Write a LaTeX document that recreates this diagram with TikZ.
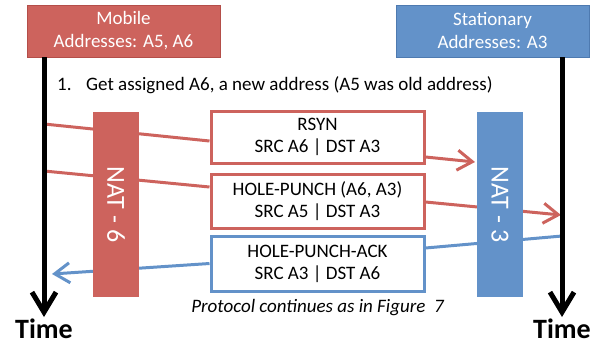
\documentclass[tikz,border=0pt]{standalone}
\usepackage{fontspec}
\setmainfont{Carlito}
\usetikzlibrary{arrows.meta,backgrounds}
\definecolor{natred}{RGB}{205,99,93}
\definecolor{natredd}{RGB}{180,78,73}
\definecolor{natblue}{RGB}{99,146,201}
\definecolor{natblued}{RGB}{78,122,176}
\tikzset{
  hdr/.style={rectangle,draw=#1,line width=1pt,minimum width=193pt,minimum height=52pt,inner sep=0pt,align=center,text=white,font=\fontsize{19}{23}\selectfont},
  natbox/.style={rectangle,fill=#1,minimum width=185pt,minimum height=46pt,inner sep=0pt,text=white,font=\fontsize{26}{30}\selectfont},
  msgbox/.style={rectangle,draw=#1,line width=3pt,fill=white,minimum width=213pt,minimum height=52pt,inner sep=0pt,align=center,font=\fontsize{19}{22}\selectfont},
  msg/.style={line width=3pt,draw=#1},
  msgarrow/.style={line width=3pt,draw=#1,-{Straight Barb[length=15pt,width=20pt]}},
  timeline/.style={line width=5pt,-{Straight Barb[length=20pt,width=24pt]}},
  timelbl/.style={font=\fontsize{28}{30}\selectfont\bfseries,inner sep=0pt,anchor=base},
}
\begin{document}
\begin{tikzpicture}[x=1pt,y=-1pt]
\useasboundingbox (0,0) rectangle (603,346);
% header boxes
\node[hdr=natredd,fill=natred] (mob) at (123.5,31) {Mobile\\Addresses: A5, A6};
\node[hdr=natblued,fill=natblue] (sta) at (492.5,31) {Stationary\\Addresses: A3};
% NAT boxes
\node[natbox=natred,rotate=-90] (nat6) at (116,204.5) {NAT - 6};
\node[natbox=natblue,rotate=-90] (nat3) at (500,204.5) {NAT - 3};
% message boxes
\node[msgbox=natred,minimum height=52pt] (rsyn) at (317.5,137) {RSYN\\SRC A6 | DST A3};
\node[msgbox=natred,minimum height=54pt] (hp) at (317.5,201) {HOLE-PUNCH (A6, A3)\\SRC A5 | DST A3};
\node[msgbox=natblue,minimum height=55pt] (hpa) at (317.5,263.5) {HOLE-PUNCH-ACK\\SRC A3 | DST A6};
% timeline coordinates
\coordinate (lt) at (44,57);
\coordinate (lb) at (44,317);
\coordinate (rt) at (562,57);
\coordinate (rb) at (562,317);
\coordinate (r1s) at (44,124);
\coordinate (r1e) at (475,162);
\coordinate (r2s) at (44,171);
\coordinate (r2e) at (561,215);
\coordinate (b1s) at (562,236);
\coordinate (b1e) at (52,274);
\begin{scope}[on background layer]
\draw[msg=natred] (r1s) -- ([yshift=-4pt]rsyn.west);
\draw[msgarrow=natred] ([yshift=-20pt]rsyn.east) -- (r1e);
\draw[msg=natred] (r2s) -- ([yshift=14pt]hp.west);
\draw[msgarrow=natred] ([yshift=-1pt]hp.east) -- (r2e);
\draw[msg=natblue] (b1s) -- ([yshift=15.5pt]hpa.east);
\draw[msgarrow=natblue] ([yshift=0pt]hpa.west) -- (b1e);
\end{scope}
% timelines
\draw[timeline] (lt) -- (lb);
\draw[timeline] (rt) -- (rb);
\node[timelbl] (tl) at (44,338) {Time};
\node[timelbl] (tr) at (562,338) {Time};
% texts
\node[anchor=base west,inner sep=0pt,font=\fontsize{19}{22}\selectfont] (step1) at (57,90) {\makebox[29pt][l]{1.}Get assigned A6, a new address (A5 was old address)};
\node[anchor=base,inner sep=0pt,font=\fontsize{19}{22}\selectfont\itshape] (cont) at (317.5,312) {Protocol continues as in Figure~~7};
\end{tikzpicture}
\end{document}
